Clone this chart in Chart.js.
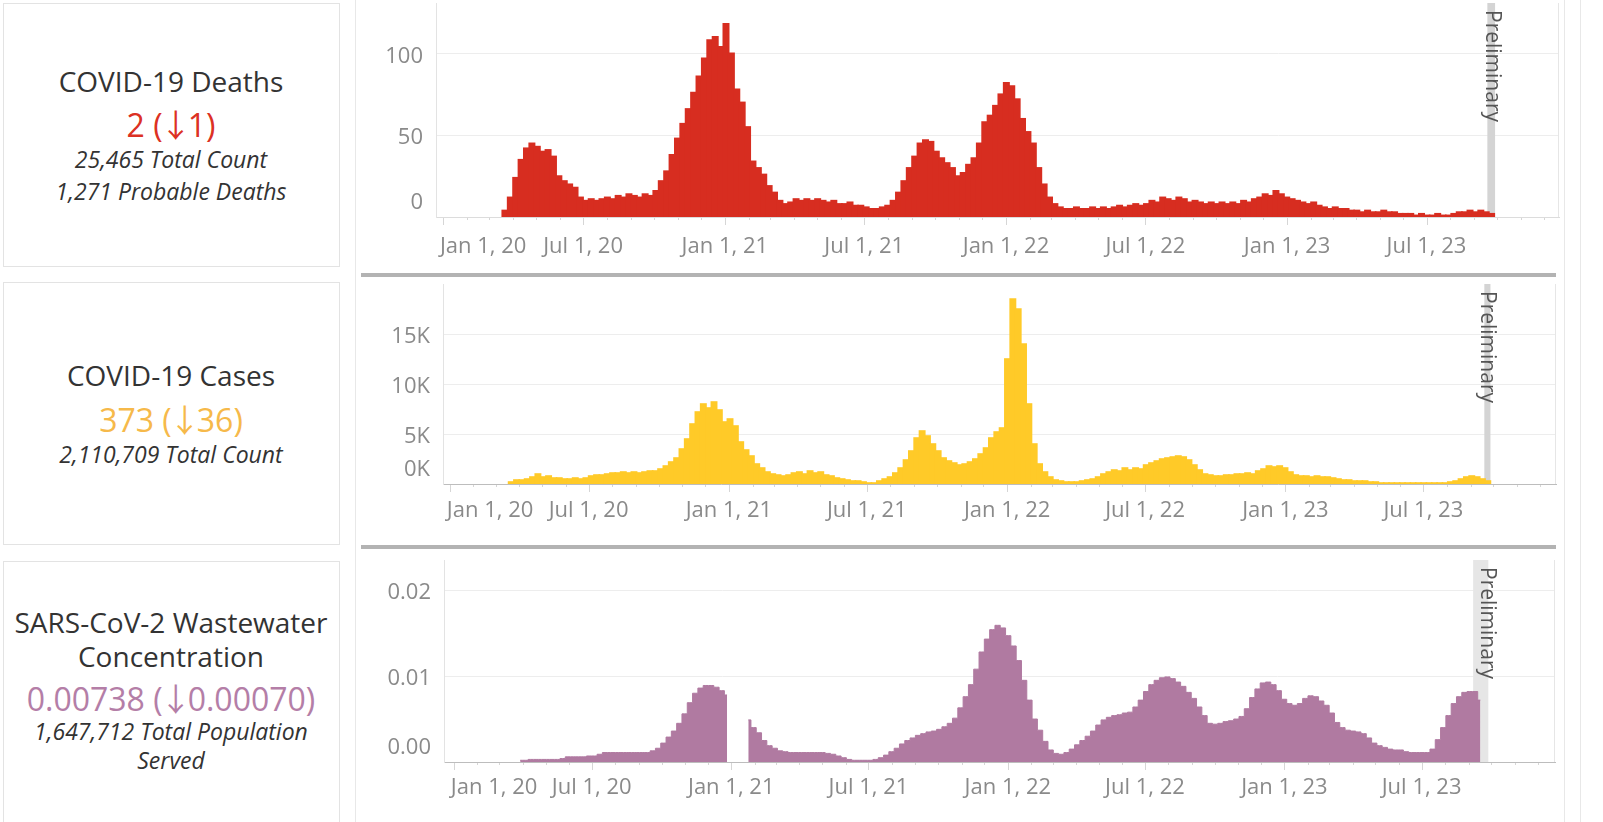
<!DOCTYPE html>
<html>
<head>
<meta charset="utf-8">
<script src="https://cdn.jsdelivr.net/npm/chart.js@4.4.0/dist/chart.umd.min.js"></script>
<style>
  body { margin: 0; background: #fff; font-family: 'Open Sans', sans-serif; }
  #page { position: relative; width: 1603px; height: 822px; overflow: hidden; background: #fff; }
  .card { position: absolute; left: 3px; width: 337px; border: 1px solid #e3e3e3; box-sizing: border-box; }
  .vline { position: absolute; top: 0; width: 1px; height: 822px; background: #e8e8e8; }
  .sep { position: absolute; left: 361px; width: 1195px; height: 4px; background: #b3b3b3; }
  .t { position: absolute; left: 0; width: 342px; text-align: center; line-height: 1; white-space: nowrap; color: #333; }
  .title { font-size: 28px; }
  .sub { font-size: 23px; font-style: italic; }
  .val { font-size: 32px; }
  .arr { font-family: 'Noto Sans CJK JP', 'DejaVu Sans', sans-serif; margin: 0 -4px 0 -3px; }
  canvas { position: absolute; }
</style>
</head>
<body>
<div id="page">
  <div class="card" style="top:3px;height:264px"></div>
  <div class="card" style="top:282px;height:263px"></div>
  <div class="card" style="top:561px;height:300px"></div>

  <div class="t title" style="top:67px">COVID-19 Deaths</div>
  <div class="t val" style="top:107px;color:#dc3123">2 (<span class="arr">↓</span>1)</div>
  <div class="t sub" style="top:148px">25,465 Total Count</div>
  <div class="t sub" style="top:180px">1,271 Probable Deaths</div>

  <div class="t title" style="top:361px">COVID-19 Cases</div>
  <div class="t val" style="top:402px;color:#f6b94a">373 (<span class="arr">↓</span>36)</div>
  <div class="t sub" style="top:443px">2,110,709 Total Count</div>

  <div class="t title" style="top:608px">SARS-CoV-2 Wastewater</div>
  <div class="t title" style="top:642px">Concentration</div>
  <div class="t val" style="top:681px;color:#b47ea7">0.00738 (<span class="arr">↓</span>0.00070)</div>
  <div class="t sub" style="top:720px">1,647,712 Total Population</div>
  <div class="t sub" style="top:749px">Served</div>

  <div class="vline" style="left:355px"></div>
  <div class="vline" style="left:1564px"></div>
  <div class="vline" style="left:1580px"></div>
  <div class="sep" style="top:273px"></div>
  <div class="sep" style="top:545px"></div>

  <canvas id="deathsChart" width="1200" height="268" style="left:360px;top:0"></canvas>
  <canvas id="casesChart" width="1197" height="262" style="left:360px;top:278px"></canvas>
  <canvas id="wasteChart" width="1196" height="272" style="left:360px;top:550px"></canvas>
</div>

<script>
// days counted from Jan 1, 2020; one value per week
const weekLength = 7;
const tickDays = [0, 182, 366, 547, 731, 912, 1096, 1277];
const tickLabels = ['Jan 1, 20', 'Jul 1, 20', 'Jan 1, 21', 'Jul 1, 21', 'Jan 1, 22', 'Jul 1, 22', 'Jan 1, 23', 'Jul 1, 23'];

const deathsWeekly = [
    null, null, null, null, null, null, null, null, null, null, null,
    4, 12, 24, 35, 42, 45, 43, 40, 41, 37, 25, 22, 20, 18, 12,
    10, 11, 10, 11, 12, 11, 13, 12, 14, 13, 12, 14, 13, 16,
    22, 28, 38, 48, 57, 66, 76, 86, 97, 108, 110, 104, 118, 100, 78, 70, 55, 34, 30, 26, 19, 15,
    10, 8, 9, 11, 10, 11, 10, 11, 10, 9, 10, 8, 8, 9, 7, 7,
    6, 5, 5, 6, 7, 10, 15, 22, 30, 37, 45, 47, 46, 40, 36, 33, 30, 25, 27, 32,
    36, 45, 58, 62, 68, 75, 82, 80, 72, 60, 52, 45, 30, 20, 12, 8, 6,
    5, 5, 6, 5, 5, 6, 5, 6, 5, 6, 7, 6, 7, 8, 7,
    8, 10, 9, 12, 11, 10, 12, 11, 9, 10, 9, 8, 9, 8, 9, 8, 9,
    8, 10, 9, 11, 12, 14, 13, 16, 14, 12, 11, 10, 9, 8, 9, 7,
    6, 5, 6, 5, 5, 4, 4, 3, 4, 3, 3, 4, 3, 3, 2,
    2, 2, 1, 2, 1, 1, 2, 1, 1, 2, 3, 3, 4, 3, 4, 3, 2
];

const casesThousands = [
    null, null, null, null, null, null, null, null, null, null, null,
    0.2, 0.4, 0.4, 0.5, 0.7, 1.0, 0.7, 0.8, 0.6, 0.6,
    0.5, 0.5, 0.6, 0.5, 0.6, 0.8, 0.9, 0.9, 1.0, 1.1,
    1.1, 1.2, 1.1, 1.2, 1.1, 1.2, 1.3, 1.3, 1.5, 1.8,
    2.2, 2.6, 3.5, 4.5, 6.0, 7.2, 8.0, 7.6, 8.2, 7.4,
    6.2, 6.5, 5.8, 4.2, 3.4, 2.8, 2.0, 1.6, 1.2, 1.0,
    0.9, 0.8, 0.9, 1.1, 1.2, 1.0, 1.3, 1.1, 1.2, 0.9,
    0.8, 0.6, 0.5, 0.4, 0.3, 0.3, 0.2, 0.1, 0.1, 0.3,
    0.5, 0.7, 1.1, 1.6, 2.4, 3.3, 4.6, 5.3, 4.8, 4.0,
    3.3, 2.6, 2.3, 2.1, 1.9, 2.0, 2.2, 2.5, 3.0, 3.6,
    4.6, 5.2, 5.6, 12.5, 18.5, 17.5, 14.0, 8.0, 4.0, 2.0,
    1.2, 0.7, 0.4, 0.3, 0.2, 0.2, 0.2, 0.3, 0.4, 0.5,
    0.7, 1.0, 1.2, 1.4, 1.3, 1.6, 1.4, 1.6, 1.5, 1.9,
    2.1, 2.3, 2.5, 2.6, 2.7, 2.8, 2.7, 2.4, 1.9, 1.4,
    1.0, 0.9, 0.8, 0.8, 0.9, 0.9, 1.0, 1.0, 1.1, 1.0,
    1.3, 1.5, 1.8, 1.7, 1.8, 1.6, 1.2, 0.9, 0.8, 0.8,
    0.7, 0.8, 0.7, 0.7, 0.6, 0.5, 0.4, 0.4, 0.3, 0.3,
    0.3, 0.2, 0.2, 0.1, 0.1, 0.1, 0.1, 0.1, 0.1, 0.1,
    0.1, 0.1, 0.1, 0.1, 0.1, 0.1, 0.2, 0.3, 0.5, 0.7,
    0.8, 0.7, 0.5, 0.3
];

const wastewaterWeekly = [
    null, null, null, null, null, null, null, null, null, null, null, null,
    0.0002, 0.0002, 0.0003, 0.0003, 0.0003, 0.0003, 0.0003, 0.0003, 0.0004, 0.0006,
    0.0006, 0.0006, 0.0006, 0.0007, 0.0007, 0.0009, 0.0011, 0.0011, 0.0011, 0.0011,
    0.0011, 0.0011, 0.0011, 0.0011, 0.0011, 0.0013, 0.0016, 0.0022, 0.0029, 0.0036,
    0.0045, 0.0056, 0.0069, 0.0080, 0.0086, 0.0089, 0.0089, 0.0087, 0.0083, 0.0078,
    null, null, null,
    0.0049, 0.0040, 0.0034, 0.0025, 0.0019, 0.0016, 0.0013, 0.0012, 0.0011, 0.0011,
    0.0011, 0.0011, 0.0011, 0.0011, 0.0011, 0.0010, 0.0009, 0.0007, 0.0005, 0.0003,
    0.0002, 0.0002, 0.0002, 0.0002, 0.0003, 0.0005, 0.0008, 0.0012, 0.0016, 0.0021,
    0.0025, 0.0028, 0.0031, 0.0033, 0.0035, 0.0036, 0.0038, 0.0041, 0.0045, 0.0051,
    0.0063, 0.0076, 0.0090, 0.0108, 0.0128, 0.0143, 0.0154, 0.0159, 0.0156, 0.0147,
    0.0135, 0.0118, 0.0095, 0.0072, 0.0050, 0.0037, 0.0024, 0.0014, 0.0010, 0.0009,
    0.0011, 0.0015, 0.0020, 0.0025, 0.0030, 0.0036, 0.0043, 0.0049, 0.0052, 0.0054,
    0.0055, 0.0057, 0.0058, 0.0064, 0.0072, 0.0082, 0.0090, 0.0095, 0.0098, 0.0099,
    0.0097, 0.0093, 0.0088, 0.0081, 0.0074, 0.0064, 0.0054, 0.0045, 0.0044, 0.0045,
    0.0047, 0.0048, 0.0050, 0.0053, 0.0062, 0.0075, 0.0085, 0.0092, 0.0093, 0.0090,
    0.0083, 0.0073, 0.0068, 0.0066, 0.0068, 0.0074, 0.0077, 0.0076, 0.0071, 0.0066,
    0.0057, 0.0046, 0.0040, 0.0037, 0.0036, 0.0035, 0.0033, 0.0028, 0.0022, 0.0019,
    0.0017, 0.0015, 0.0014, 0.0014, 0.0012, 0.0011, 0.0011, 0.0011, 0.0011, 0.0015,
    0.0026, 0.0040, 0.0054, 0.0068, 0.0076, 0.0081, 0.0082, 0.0082, 0.0072
];

const deathsTicks = [0, 50, 100];
const deathsTickLabels = ['0', '50', '100'];
const casesTicks = [0, 5, 10, 15];
const casesTickLabels = ['0K', '5K', '10K', '15K'];
const wasteTicks = [0, 0.01, 0.02];
const wasteTickLabels = ['0.00', '0.01', '0.02'];

// first day of every month shown on the axis (minor tick marks)
const monthDays = [];
for (let y = 2020; y <= 2023; y++) {
    for (let m = 0; m < 12; m++) {
        monthDays.push(Math.round((Date.UTC(y, m, 1) - Date.UTC(2020, 0, 1)) / 86400000));
    }
}

function toPoints(values) {
    return values.map((v, i) => ({ x: i * weekLength + weekLength / 2, y: v }));
}

function makeDecor(cfg) {
    return {
        id: 'decor',
        beforeDatasetsDraw(chart) {
            const { ctx, chartArea: a, scales: { x } } = chart;
            const x0 = x.getPixelForValue(cfg.bandFrom);
            const x1 = x.getPixelForValue(cfg.bandTo);
            ctx.save();
            ctx.fillStyle = cfg.bandColor;
            ctx.fillRect(x0, a.top, x1 - x0, a.bottom - a.top);
            ctx.restore();
        },
        afterDraw(chart) {
            const { ctx, chartArea: a, scales: { x, y } } = chart;
            ctx.save();
            ctx.lineWidth = 1;
            ctx.strokeStyle = '#e6e6e6';
            ctx.beginPath();
            ctx.moveTo(a.right - 0.5, a.top);
            ctx.lineTo(a.right - 0.5, a.bottom);
            ctx.stroke();

            ctx.strokeStyle = '#d6d6d6';
            monthDays.forEach(d => {
                if (d < x.min || d > x.max) return;
                const px = Math.round(x.getPixelForValue(d)) + 0.5;
                const major = tickDays.includes(d);
                ctx.beginPath();
                ctx.moveTo(px, a.bottom + 1);
                ctx.lineTo(px, a.bottom + (major ? 8 : 3));
                ctx.stroke();
            });

            ctx.font = '22px "Open Sans"';
            ctx.fillStyle = '#8a8a8a';
            ctx.textBaseline = 'middle';
            tickDays.forEach((d, i) => {
                const px = x.getPixelForValue(d);
                ctx.textAlign = i === 0 ? 'left' : 'center';
                ctx.fillText(tickLabels[i], i === 0 ? px - 3 : px, a.bottom + cfg.labelGap);
            });

            ctx.textAlign = 'right';
            cfg.yTicks.forEach((v, i) => {
                const py = y.getPixelForValue(v) + (i === 0 ? -14 : 3);
                ctx.fillText(cfg.yLabels[i], a.left - 13, py);
            });

            ctx.translate(x.getPixelForValue(cfg.textDay), a.top + 7);
            ctx.rotate(Math.PI / 2);
            ctx.font = '21px "Open Sans"';
            ctx.fillStyle = '#555';
            ctx.textAlign = 'left';
            ctx.fillText('Preliminary', 0, 0);
            ctx.restore();
        }
    };
}

function makeDataset(cfg) {
    if (cfg.area) {
        // wastewater is a continuous stepped area, not separate bars
        return {
            type: 'line',
            data: toPoints(cfg.values),
            backgroundColor: cfg.color,
            borderColor: cfg.color,
            borderWidth: 1,
            fill: 'origin',
            stepped: 'middle',
            pointRadius: 0,
            spanGaps: false
        };
    }
    return {
        data: toPoints(cfg.values),
        backgroundColor: cfg.color,
        borderWidth: 0,
        inflateAmount: 0.8,
        barPercentage: 1,
        categoryPercentage: 1
    };
}

function makeChart(id, cfg) {
    return new Chart(document.getElementById(id), {
        type: 'bar',
        data: { datasets: [makeDataset(cfg)] },
        options: {
            responsive: false,
            animation: false,
            layout: { padding: { top: cfg.padTop, right: 1, left: 0, bottom: 0 } },
            plugins: { legend: { display: false }, tooltip: { enabled: false } },
            scales: {
                x: {
                    type: 'linear',
                    min: cfg.xMin,
                    max: cfg.xMax,
                    offset: false,
                    grid: { display: false, offset: false },
                    ticks: { display: false },
                    border: { display: true, color: cfg.baseColor, dash: cfg.baseDash },
                    afterFit(s) { s.height = cfg.xHeight; }
                },
                y: {
                    min: 0,
                    max: cfg.yMax,
                    grid: { color: '#ededed', drawTicks: false },
                    ticks: { display: false },
                    border: { display: true, color: '#e3e3e3' },
                    afterBuildTicks(s) { s.ticks = cfg.yTicks.map(v => ({ value: v })); },
                    afterFit(s) { s.width = cfg.yWidth; }
                }
            }
        },
        plugins: [makeDecor(cfg)]
    });
}

makeChart('deathsChart', {
    values: deathsWeekly, color: '#d72d20',
    yTicks: deathsTicks, yLabels: deathsTickLabels, yMax: 130.7,
    xMin: -9, xMax: 1449, padTop: 3, yWidth: 76, xHeight: 51, labelGap: 30,
    baseColor: '#dcdcdc', baseDash: [],
    bandFrom: 1356, bandTo: 1366, bandColor: '#d4d4d4', textDay: 1362
});

makeChart('casesChart', {
    values: casesThousands, color: '#ffca28',
    yTicks: casesTicks, yLabels: casesTickLabels, yMax: 20,
    xMin: -9, xMax: 1451, padTop: 6, yWidth: 83, xHeight: 56, labelGap: 27,
    baseColor: '#bdbdbd', baseDash: [3, 2],
    bandFrom: 1357, bandTo: 1365, bandColor: '#d4d4d4', textDay: 1360
});

makeChart('wasteChart', {
    values: wastewaterWeekly, color: '#b07aa1', area: true,
    yTicks: wasteTicks, yLabels: wasteTickLabels, yMax: 0.0235,
    xMin: -13, xMax: 1453, padTop: 10, yWidth: 84, xHeight: 60, labelGap: 26,
    baseColor: '#bdbdbd', baseDash: [3, 2],
    bandFrom: 1345, bandTo: 1365, bandColor: '#e6e6e6', textDay: 1363
});
</script>
</body>
</html>
